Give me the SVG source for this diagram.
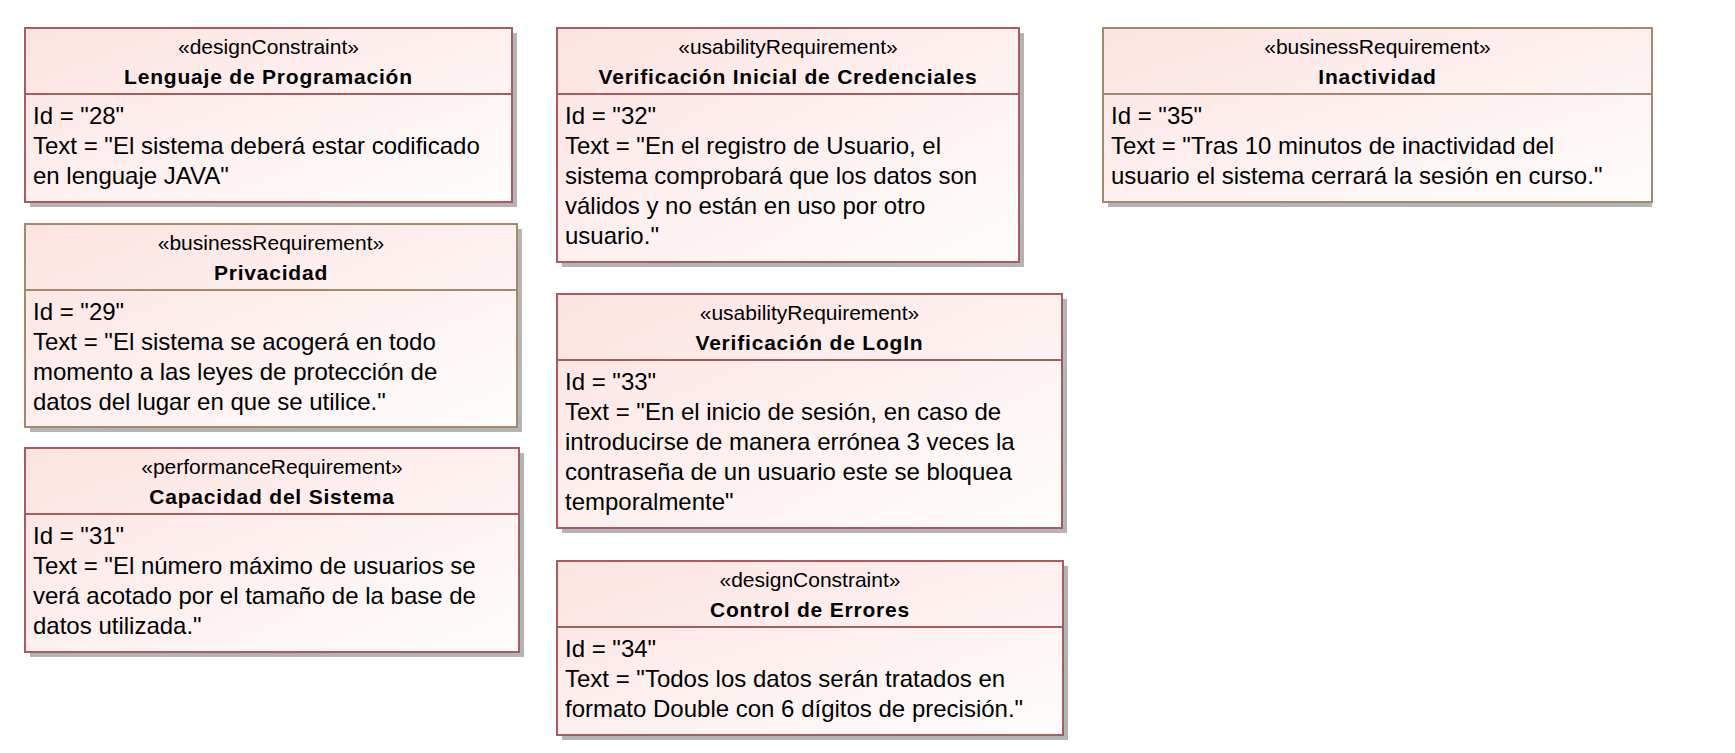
<svg xmlns="http://www.w3.org/2000/svg" width="1735" height="753" viewBox="0 0 1735 753">
<defs>
<linearGradient id="fillGrad" x1="0" y1="0" x2="1" y2="1">
<stop offset="0" stop-color="#fce3e1"/>
<stop offset="1" stop-color="#fffdfd"/>
</linearGradient>
</defs>
<style>
.bg{fill:#ffffff}
.shadow{fill:#b4b4b4}
.box{fill:url(#fillGrad);stroke-width:2}
.red{stroke:#a85c60}
.brown{stroke:#a6896c}
.div{stroke-width:2}
.st{font-family:"Liberation Sans",Arial,sans-serif;font-size:21px;fill:#000;text-anchor:middle}
.ti{font-family:"Liberation Sans",Arial,sans-serif;font-size:21px;font-weight:bold;fill:#000;text-anchor:middle;letter-spacing:0.8px}
.bd{font-family:"Liberation Sans",Arial,sans-serif;font-size:24px;fill:#000}
</style>
<rect class="bg" x="0" y="0" width="1735" height="753"/>
<g id="connectors"/>

<g id="node-28">
<rect class="shadow" x="30" y="33" width="487" height="174"/>
<rect class="box red" x="25" y="28" width="487" height="174"/>
<line class="div red" x1="25" y1="94" x2="512" y2="94"/>
<text class="st" x="268.5" y="54">«designConstraint»</text>
<text class="ti" x="268.5" y="84">Lenguaje de Programación</text>
<text class="bd" x="33" y="124">Id = "28"</text>
<text class="bd" x="33" y="154">Text = "El sistema deberá estar codificado</text>
<text class="bd" x="33" y="184">en lenguaje JAVA"</text>
</g>

<g id="node-29">
<rect class="shadow" x="30" y="229" width="492" height="203"/>
<rect class="box brown" x="25" y="224" width="492" height="203"/>
<line class="div brown" x1="25" y1="290" x2="517" y2="290"/>
<text class="st" x="271" y="250">«businessRequirement»</text>
<text class="ti" x="271" y="280">Privacidad</text>
<text class="bd" x="33" y="320">Id = "29"</text>
<text class="bd" x="33" y="350">Text = "El sistema se acogerá en todo</text>
<text class="bd" x="33" y="380">momento a las leyes de protección de</text>
<text class="bd" x="33" y="410">datos del lugar en que se utilice."</text>
</g>

<g id="node-31">
<rect class="shadow" x="30" y="453" width="494" height="204"/>
<rect class="box red" x="25" y="448" width="494" height="204"/>
<line class="div red" x1="25" y1="514" x2="519" y2="514"/>
<text class="st" x="272" y="474">«performanceRequirement»</text>
<text class="ti" x="272" y="504">Capacidad del Sistema</text>
<text class="bd" x="33" y="544">Id = "31"</text>
<text class="bd" x="33" y="574">Text = "El número máximo de usuarios se</text>
<text class="bd" x="33" y="604">verá acotado por el tamaño de la base de</text>
<text class="bd" x="33" y="634">datos utilizada."</text>
</g>

<g id="node-32">
<rect class="shadow" x="562" y="33" width="462" height="234"/>
<rect class="box red" x="557" y="28" width="462" height="234"/>
<line class="div red" x1="557" y1="94" x2="1019" y2="94"/>
<text class="st" x="788" y="54">«usabilityRequirement»</text>
<text class="ti" x="788" y="84">Verificación Inicial de Credenciales</text>
<text class="bd" x="565" y="124">Id = "32"</text>
<text class="bd" x="565" y="154">Text = "En el registro de Usuario, el</text>
<text class="bd" x="565" y="184">sistema comprobará que los datos son</text>
<text class="bd" x="565" y="214">válidos y no están en uso por otro</text>
<text class="bd" x="565" y="244">usuario."</text>
</g>

<g id="node-33">
<rect class="shadow" x="562" y="299" width="505" height="234"/>
<rect class="box red" x="557" y="294" width="505" height="234"/>
<line class="div red" x1="557" y1="360" x2="1062" y2="360"/>
<text class="st" x="809.5" y="320">«usabilityRequirement»</text>
<text class="ti" x="809.5" y="350">Verificación de LogIn</text>
<text class="bd" x="565" y="390">Id = "33"</text>
<text class="bd" x="565" y="420">Text = "En el inicio de sesión, en caso de</text>
<text class="bd" x="565" y="450">introducirse de manera errónea 3 veces la</text>
<text class="bd" x="565" y="480">contraseña de un usuario este se bloquea</text>
<text class="bd" x="565" y="510">temporalmente"</text>
</g>

<g id="node-34">
<rect class="shadow" x="562" y="566" width="506" height="174"/>
<rect class="box red" x="557" y="561" width="506" height="174"/>
<line class="div red" x1="557" y1="627" x2="1063" y2="627"/>
<text class="st" x="810" y="587">«designConstraint»</text>
<text class="ti" x="810" y="617">Control de Errores</text>
<text class="bd" x="565" y="657">Id = "34"</text>
<text class="bd" x="565" y="687">Text = "Todos los datos serán tratados en</text>
<text class="bd" x="565" y="717">formato Double con 6 dígitos de precisión."</text>
</g>

<g id="node-35">
<rect class="shadow" x="1108" y="33" width="544" height="174"/>
<rect class="box brown" x="1103" y="28" width="549" height="174"/>
<line class="div brown" x1="1103" y1="94" x2="1652" y2="94"/>
<text class="st" x="1377.5" y="54">«businessRequirement»</text>
<text class="ti" x="1377.5" y="84">Inactividad</text>
<text class="bd" x="1111" y="124">Id = "35"</text>
<text class="bd" x="1111" y="154">Text = "Tras 10 minutos de inactividad del</text>
<text class="bd" x="1111" y="184">usuario el sistema cerrará la sesión en curso."</text>
</g>
</svg>
